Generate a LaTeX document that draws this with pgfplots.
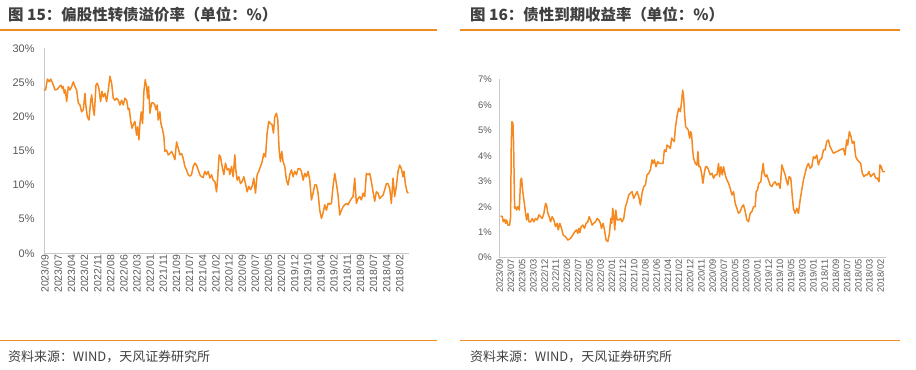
\documentclass[border=0pt]{standalone}
\usepackage{pgfplots}
\pgfplotsset{compat=1.18}
\usepackage{pgfplotstable}
\usepackage{fontspec}
\setmainfont{Liberation Sans}
\newfontfamily\cjk{Noto Sans CJK SC}
\definecolor{lineor}{HTML}{F5891F}
\definecolor{rule}{HTML}{F08A24}
\definecolor{axgray}{HTML}{C8C8C8}
\definecolor{txt}{HTML}{404040}
\definecolor{ticktxt}{HTML}{595959}

\pgfplotstableread{
x y
132 23.9
137 23.9
142 25.5
148 25.1
152 25.5
158 24.9
165 23.9
172 24.0
178 24.4
183 24.6
187 24.1
190 24.4
193 23.4
196 23.9
200 22.2
205 24.4
210 23.9
215 24.4
220 25.1
225 24.4
230 23.9
235 22.0
240 21.7
245 20.7
250 21.0
255 23.4
258 21.5
262 20.0
267 19.5
272 22.2
275 23.2
280 21.0
283 20.2
288 24.6
292 24.9
297 24.1
302 22.2
306 23.7
310 22.9
315 23.4
320 22.2
325 23.9
330 25.9
335 24.9
340 22.7
345 22.4
350 22.7
355 22.4
360 21.7
365 22.4
370 21.7
375 22.7
380 22.4
385 21.0
388 21.2
392 19.5
396 18.3
400 18.8
405 19.3
410 17.3
413 18.5
417 16.6
420 19.0
424 20.7
428 19.0
432 23.7
436 25.4
440 24.4
443 22.7
446 24.4
450 20.5
455 22.0
460 22.0
465 21.7
468 21.0
472 21.7
475 19.5
480 20.7
483 19.0
487 18.3
492 17.1
495 14.9
500 15.1
505 14.4
510 14.6
515 14.9
520 14.4
525 13.7
530 16.3
535 15.4
540 14.4
545 14.6
550 13.9
555 12.7
560 12.2
565 11.5
570 11.3
575 11.5
580 12.7
585 13.2
590 12.9
595 12.2
600 11.5
605 11.2
610 11.1
615 12.0
620 11.5
625 12.0
630 11.0
635 11.5
640 10.7
645 10.5
650 9.0
653 10.7
658 14.4
662 14.1
667 12.7
672 11.5
677 13.2
682 12.2
687 12.4
690 11.5
695 12.7
700 11.2
705 14.4
708 12.2
712 10.7
717 11.2
722 10.2
727 10.5
732 11.2
737 10.2
742 9.0
747 9.8
752 9.3
757 9.8
762 11.0
767 8.8
772 11.5
777 12.0
782 12.7
787 13.4
792 14.6
797 14.1
802 17.6
807 19.3
812 19.0
817 18.8
821 17.6
825 20.0
830 20.5
834 19.5
838 15.1
842 13.4
846 14.9
850 13.4
855 12.7
860 10.7
865 10.0
870 11.5
875 12.2
880 11.2
885 12.0
890 11.5
895 12.4
900 12.4
905 12.0
910 10.7
915 11.7
920 11.2
925 12.0
930 10.7
935 7.8
940 8.8
945 10.0
950 10.0
955 8.8
960 6.3
965 5.1
970 5.9
975 7.1
980 6.3
985 7.3
990 7.2
995 7.3
1000 9.8
1005 11.7
1010 10.2
1015 8.5
1020 5.6
1025 6.3
1030 6.8
1035 7.1
1040 7.3
1045 7.1
1050 7.6
1055 8.0
1060 8.3
1065 11.0
1070 7.3
1075 8.0
1080 8.3
1085 7.8
1090 8.8
1095 8.3
1100 11.7
1105 11.5
1110 11.7
1115 10.5
1120 9.0
1125 7.6
1130 9.0
1135 8.8
1140 8.0
1145 8.3
1150 8.5
1155 9.3
1160 10.2
1165 10.2
1170 9.5
1175 7.3
1180 11.0
1185 8.3
1190 9.8
1195 12.0
1200 12.9
1205 12.4
1210 11.2
1213 12.0
1217 10.2
1222 9.0
1226 8.8
}\premium

\pgfplotstableread{
x y
120 1.64
125 1.61
128 1.41
132 1.50
135 1.35
138 1.48
142 1.28
147 1.28
150 1.61
152 4.49
154 5.34
157 5.27
159 4.49
162 1.94
165 2.00
168 1.87
172 2.00
176 1.87
180 3.05
183 3.12
186 2.66
190 2.26
195 1.74
198 1.48
202 1.74
205 1.41
210 1.41
215 1.54
220 1.41
225 1.54
230 1.48
235 1.68
240 1.61
245 1.54
250 1.74
255 2.13
258 2.07
262 1.74
266 1.61
270 1.41
275 1.61
280 1.48
285 1.22
290 1.35
293 1.09
298 1.35
303 1.15
308 0.89
315 0.82
322 0.69
330 0.76
337 0.89
343 1.02
348 1.09
352 0.95
355 1.15
358 0.98
362 1.22
367 1.28
372 1.15
377 1.35
382 1.41
386 1.61
390 1.48
395 1.28
400 1.35
405 1.41
410 1.54
415 1.48
420 1.35
423 1.15
428 1.35
432 1.09
437 0.69
442 0.63
447 0.95
451 1.54
454 1.35
457 1.94
460 1.61
463 1.09
466 1.87
470 1.48
475 1.48
480 1.54
485 1.41
490 1.54
495 2.00
500 2.20
505 2.46
510 2.53
515 2.59
520 2.33
525 2.46
530 2.59
535 2.40
540 2.07
545 2.53
550 2.79
555 2.85
560 3.25
565 3.31
570 3.44
575 3.84
578 3.70
582 3.84
587 3.57
592 3.77
597 3.70
603 3.70
608 3.70
612 4.23
617 4.16
620 4.42
625 4.36
630 4.29
634 4.69
638 4.62
642 4.56
645 5.08
650 5.54
655 5.86
660 5.73
664 6.13
667 6.58
670 6.32
673 5.60
676 5.14
680 5.08
684 5.01
688 4.69
691 4.95
694 4.82
697 4.23
700 3.90
705 3.70
710 3.63
713 4.16
716 3.57
720 3.57
724 3.31
728 2.92
732 3.31
736 3.57
740 3.57
745 3.44
750 3.25
755 3.31
760 3.12
765 3.25
770 3.25
775 3.70
778 3.18
782 3.57
786 3.25
790 3.57
795 3.25
800 3.05
805 2.92
810 2.72
815 2.46
820 2.59
825 2.13
830 1.94
835 1.74
840 1.81
845 2.00
850 2.07
855 1.81
860 1.48
865 1.41
870 1.74
875 1.81
880 2.00
885 2.00
888 2.59
892 2.66
896 2.92
902 2.98
905 3.31
909 3.70
912 3.31
916 3.18
920 3.25
925 3.05
930 2.85
935 2.79
940 2.92
945 2.98
950 2.85
955 2.92
960 2.72
965 3.64
970 3.44
975 3.25
980 2.98
983 2.85
987 3.18
992 3.12
997 2.33
1000 1.94
1005 1.74
1010 1.94
1015 1.74
1020 2.26
1025 2.66
1030 3.05
1035 3.31
1040 3.57
1045 3.70
1050 3.51
1055 3.57
1060 3.97
1065 3.90
1070 4.03
1075 3.64
1080 3.84
1085 3.90
1090 4.23
1095 4.23
1100 4.56
1105 4.62
1110 4.36
1115 4.23
1120 4.10
1130 4.16
1140 4.23
1150 4.29
1155 4.03
1160 4.62
1163 4.42
1168 4.95
1173 4.75
1177 4.49
1182 4.56
1187 3.97
1192 3.84
1197 3.77
1202 3.70
1207 3.31
1212 3.18
1217 3.25
1222 3.25
1227 3.38
1232 3.18
1237 3.25
1242 3.31
1247 3.12
1252 3.12
1257 2.98
1260 3.64
1264 3.57
1268 3.38
1275 3.38
}\ytm

\pgfplotsset{
  panel/.style={
    scale only axis,
    anchor=south west,
    axis x line*=bottom,
    axis y line*=left,
    axis line style={axgray, line width=1pt},
    x axis line style={-},
    y axis line style={-},
    major tick length=0pt,
    xtick={0,...,40},
    xticklabel style={rotate=90, anchor=east, text=ticktxt, inner sep=1.5pt},
    yticklabel style={text=ticktxt},
    clip=false,
  },
}

\begin{document}
\begin{tikzpicture}[x=1bp,y=1bp]
\path[use as bounding box] (0bp,0bp) rectangle (916bp,370bp);

% Left panel header/footer
\node[anchor=west, inner sep=0pt, text=txt] at (8bp,355bp) {\cjk\fontsize{15.5}{17}\selectfont\bfseries 图 15：偏股性转债溢价率（单位：\%）};
\draw[rule, line width=1.2pt] (0bp,340bp) -- (437bp,340bp);
\draw[rule, line width=1.2pt] (0bp,29.3bp) -- (437bp,29.3bp);
\node[anchor=west, inner sep=0pt, text=txt] at (8bp,13.5bp) {\cjk\fontsize{13}{14}\selectfont 资料来源：WIND，天风证券研究所};

% Right panel header/footer
\node[anchor=west, inner sep=0pt, text=txt] at (470bp,355bp) {\cjk\fontsize{15.5}{17}\selectfont\bfseries 图 16：债性到期收益率（单位：\%）};
\draw[rule, line width=1.2pt] (460bp,340bp) -- (900bp,340bp);
\draw[rule, line width=1.2pt] (460bp,29.3bp) -- (900bp,29.3bp);
\node[anchor=west, inner sep=0pt, text=txt] at (470bp,13.5bp) {\cjk\fontsize{13}{14}\selectfont 资料来源：WIND，天风证券研究所};

\begin{axis}[panel,
  at={(44bp,116.7bp)}, width=365bp, height=205bp,
  xmin=-0.076, xmax=27.71, ymin=0, ymax=30,
  ytick={0,5,...,30},
  yticklabels={0\%,5\%,10\%,15\%,20\%,25\%,30\%},
  yticklabel style={font=\fontsize{11}{12}\selectfont, xshift=-6pt},
  xticklabel style={font=\fontsize{10.5}{11}\selectfont},
  xticklabels={2023/09,2023/07,2023/04,2023/02,2022/11,2022/08,2022/06,2022/03,2022/01,2021/11,2021/09,2021/07,2021/04,2021/02,2020/12,2020/09,2020/07,2020/05,2020/02,2019/12,2019/10,2019/04,2019/02,2018/11,2018/09,2018/07,2018/04,2018/02},
]
\addplot[lineor, line width=1.5pt, line join=round] table[x expr=(\thisrow{x}-135)/39.444, y=y] {\premium};
\end{axis}

\begin{axis}[panel,
  at={(499.3bp,112.3bp)}, width=386.7bp, height=178.4bp,
  xmin=-0.03, xmax=34.48, ymin=0, ymax=7,
  ytick={0,1,...,7},
  yticklabels={0\%,1\%,2\%,3\%,4\%,5\%,6\%,7\%},
  yticklabel style={font=\fontsize{9.5}{11}\selectfont, xshift=-4pt},
  xticklabel style={font=\fontsize{9.3}{10}\selectfont},
  xticklabels={2023/09,2023/07,2023/05,2023/03,2022/12,2022/11,2022/08,2022/07,2022/05,2022/03,2022/01,2021/12,2021/10,2021/08,2021/06,2021/04,2021/02,2020/12,2020/11,2020/09,2020/07,2020/05,2020/03,2020/01,2019/12,2019/10,2019/05,2019/03,2019/01,2018/11,2018/09,2018/07,2018/05,2018/03,2018/02},
]
\addplot[lineor, line width=1.5pt, line join=round] table[x expr=(\thisrow{x}-117)/33.676, y=y] {\ytm};
\end{axis}
\end{tikzpicture}
\end{document}
